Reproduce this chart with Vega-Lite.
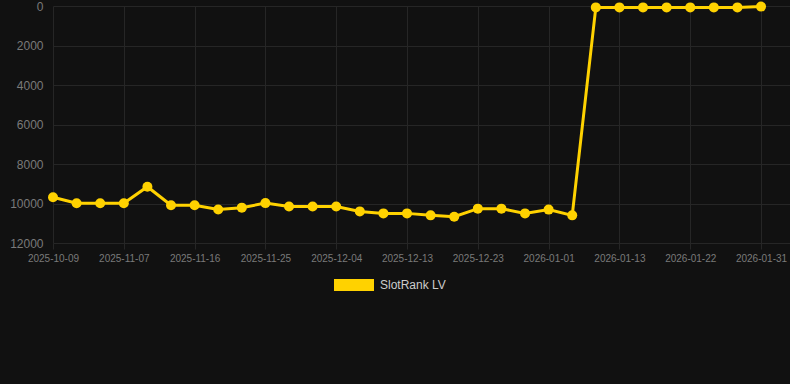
{
  "$schema": "https://vega.github.io/schema/vega-lite/v6.json",
  "width": 737,
  "height": 237,
  "autosize": {"type": "none"},
  "padding": {"left": 53, "top": 6, "right": 0, "bottom": 141},
  "background": "#111111",
  "config": {
    "view": {"stroke": null},
    "font": "Liberation Sans"
  },
  "data": {
    "values": [
      {"date": "2025-10-09", "rank": 9680, "series": "SlotRank LV"},
      {"date": "2025-10-19", "rank": 9990, "series": "SlotRank LV"},
      {"date": "2025-10-28", "rank": 9990, "series": "SlotRank LV"},
      {"date": "2025-11-07", "rank": 9990, "series": "SlotRank LV"},
      {"date": "2025-11-10", "rank": 9150, "series": "SlotRank LV"},
      {"date": "2025-11-13", "rank": 10090, "series": "SlotRank LV"},
      {"date": "2025-11-16", "rank": 10090, "series": "SlotRank LV"},
      {"date": "2025-11-19", "rank": 10300, "series": "SlotRank LV"},
      {"date": "2025-11-22", "rank": 10210, "series": "SlotRank LV"},
      {"date": "2025-11-25", "rank": 9980, "series": "SlotRank LV"},
      {"date": "2025-11-28", "rank": 10150, "series": "SlotRank LV"},
      {"date": "2025-12-01", "rank": 10150, "series": "SlotRank LV"},
      {"date": "2025-12-04", "rank": 10150, "series": "SlotRank LV"},
      {"date": "2025-12-07", "rank": 10400, "series": "SlotRank LV"},
      {"date": "2025-12-10", "rank": 10500, "series": "SlotRank LV"},
      {"date": "2025-12-13", "rank": 10500, "series": "SlotRank LV"},
      {"date": "2025-12-16", "rank": 10600, "series": "SlotRank LV"},
      {"date": "2025-12-20", "rank": 10670, "series": "SlotRank LV"},
      {"date": "2025-12-23", "rank": 10260, "series": "SlotRank LV"},
      {"date": "2025-12-26", "rank": 10260, "series": "SlotRank LV"},
      {"date": "2025-12-29", "rank": 10500, "series": "SlotRank LV"},
      {"date": "2026-01-01", "rank": 10310, "series": "SlotRank LV"},
      {"date": "2026-01-05", "rank": 10600, "series": "SlotRank LV"},
      {"date": "2026-01-09", "rank": 70, "series": "SlotRank LV"},
      {"date": "2026-01-13", "rank": 70, "series": "SlotRank LV"},
      {"date": "2026-01-16", "rank": 70, "series": "SlotRank LV"},
      {"date": "2026-01-19", "rank": 70, "series": "SlotRank LV"},
      {"date": "2026-01-22", "rank": 70, "series": "SlotRank LV"},
      {"date": "2026-01-25", "rank": 70, "series": "SlotRank LV"},
      {"date": "2026-01-28", "rank": 70, "series": "SlotRank LV"},
      {"date": "2026-01-31", "rank": 30, "series": "SlotRank LV"}
    ]
  },
  "encoding": {
    "x": {
      "field": "date",
      "type": "ordinal",
      "sort": null,
      "scale": {"type": "point", "padding": 0.614, "align": 0},
      "axis": {
        "title": null,
        "values": ["2025-10-09", "2025-11-07", "2025-11-16", "2025-11-25", "2025-12-04", "2025-12-13", "2025-12-23", "2026-01-01", "2026-01-13", "2026-01-22", "2026-01-31"],
        "labelAngle": 0,
        "labelFontSize": 10,
        "labelColor": "#7a7a7a",
        "labelPadding": 4,
        "tickSize": 6,
        "tickColor": "#262626",
        "grid": true,
        "gridColor": "#262626",
        "domain": false
      }
    },
    "y": {
      "field": "rank",
      "type": "quantitative",
      "scale": {"domain": [0, 12000], "reverse": true, "nice": false},
      "axis": {
        "title": null,
        "values": [0, 2000, 4000, 6000, 8000, 10000, 12000],
        "format": "d",
        "labelFontSize": 12,
        "labelColor": "#7a7a7a",
        "labelPadding": 10,
        "ticks": false,
        "grid": true,
        "gridColor": "#262626",
        "domain": false
      }
    }
  },
  "layer": [
    {
      "mark": {"type": "line", "color": "#FFD200", "strokeWidth": 3}
    },
    {
      "mark": {"type": "point", "filled": true, "size": 100, "opacity": 1},
      "encoding": {
        "color": {
          "field": "series",
          "type": "nominal",
          "scale": {"range": ["#FFD200"]},
          "legend": {
            "title": null,
            "orient": "none",
            "legendX": 281,
            "legendY": 259,
            "symbolType": "M-1,-0.3H1V0.3H-1Z",
            "symbolSize": 1600,
            "symbolStrokeWidth": 0,
            "symbolOpacity": 1,
            "labelFontSize": 12,
            "labelColor": "#cccccc",
            "labelOffset": 6
          }
        }
      }
    }
  ]
}
